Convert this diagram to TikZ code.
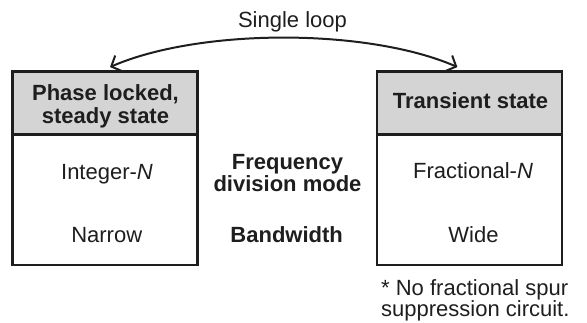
\documentclass[tikz,border=0pt]{standalone}
\usepackage{fontspec}
\setmainfont{Liberation Sans}
\usetikzlibrary{arrows.meta}
\definecolor{ink}{HTML}{1E1E1E}
\definecolor{headgray}{HTML}{D4D4D4}
\tikzset{
  boxline/.style={draw=ink, line width=2.5pt, rectangle, inner sep=0pt, minimum width=185pt},
  headbox/.style={boxline, fill=headgray, minimum height=63pt},
  bodybox/.style={boxline, fill=white, minimum height=130.7pt},
  plain/.style={text=ink, inner sep=0pt, font=\fontsize{22}{22}\selectfont},
  boldtxt/.style={plain, font=\fontsize{22}{22}\selectfont\bfseries},
  looparrow/.style={draw=ink, line width=2pt, {Straight Barb[length=8pt,width=17pt]}-{Straight Barb[length=8pt,width=17pt]}}
}
\begin{document}
\begin{tikzpicture}[x=1pt,y=-1pt]
\useasboundingbox (0,0) rectangle (587,323);
% boxes
\node[bodybox] (lb) at (105,199.6) {};
\node[headbox] (lh) at (105,102.8) {};
\node[bodybox] (rb) at (469.4,199.6) {};
\node[headbox] (rh) at (469.4,102.8) {};
% header texts
\node[boldtxt, align=center, font=\fontsize{22}{22.6}\selectfont\bfseries] (lht) at (105.5,106.3) {Phase locked,\\steady state};
\node[boldtxt, anchor=base] (rht) at (470.5,108.3) {Transient state};
% body texts
\node[plain, anchor=base] (int) at (107,179.5) {Integer-\textit{N}};
\node[plain, anchor=base] (nar) at (106.7,243) {Narrow};
\node[plain, anchor=base] (frac) at (473,178.5) {Fractional-\textit{N}};
\node[plain, anchor=base] (wide) at (473.5,242.5) {Wide};
% middle labels
\node[boldtxt, align=center, font=\fontsize{22}{21.5}\selectfont\bfseries] (fdm) at (287.5,172.9) {Frequency\\division mode};
\node[boldtxt, anchor=base] (bw) at (286.7,243) {Bandwidth};
% footnote
\node[plain, align=left, anchor=west, font=\fontsize{22}{20}\selectfont] (note) at (381,300.4) {* No fractional spur\\suppression circuit.};
% loop
\node[plain, anchor=base] (sl) at (292.5,27.3) {Single loop};
\draw[looparrow] ([xshift=5pt,yshift=3pt]lh.north) .. controls +(90,-39) and +(-90,-39) .. ([xshift=-12pt,yshift=3pt]rh.north);
\end{tikzpicture}
\end{document}
